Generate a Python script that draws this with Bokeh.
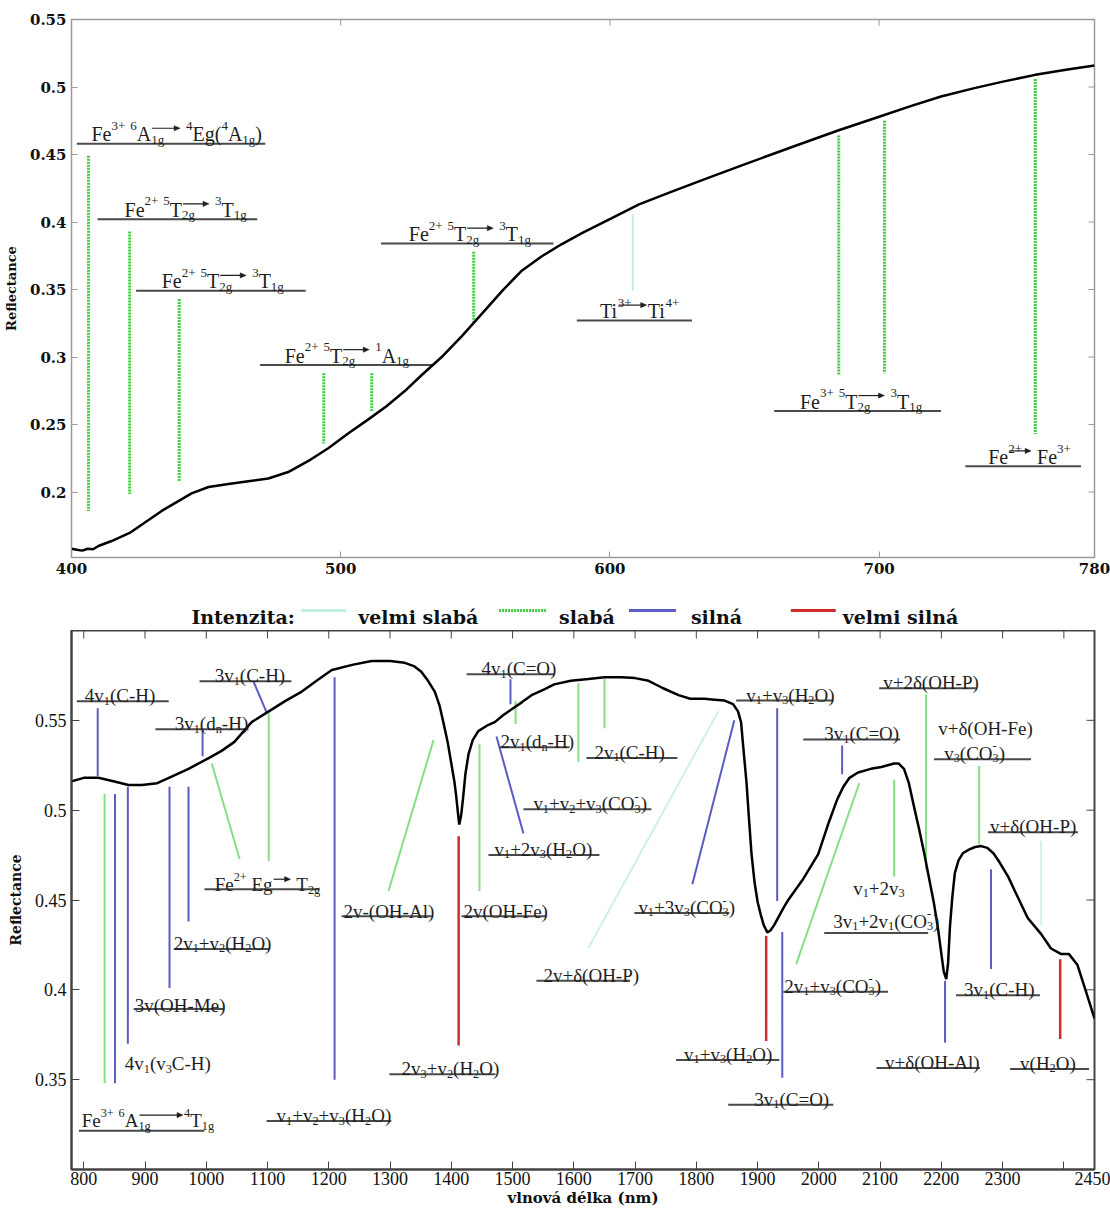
import re
from bokeh.plotting import figure
from bokeh.layouts import column
from bokeh.models import Range1d, FixedTicker, CustomJSTickFormatter, ColumnDataSource
from bokeh.core.properties import value
from bokeh.embed import file_html
from bokeh.resources import INLINE

SERIF = "Liberation Serif"
SERIF_BOLD = "DejaVu Serif"

# ---------------------------------------------------------------- data ----
# Visible range reflectance spectrum
vis_wl = [400, 402, 404, 406, 408, 410, 414.9, 421.6, 427, 433.5, 439.7, 444.6, 450.9,
          458.3, 465.7, 473.1, 480.5, 488, 495.5, 503, 510.4, 517, 523.8, 530, 537.5,
          545, 552.4, 560, 567, 574.7, 582, 589.6, 600.7, 610.8, 623, 635, 649, 660, 671,
          685, 700, 712, 723, 735, 746, 758, 770, 780]
vis_refl = [0.158, 0.1572, 0.1566, 0.158, 0.1576, 0.160, 0.1637, 0.1697, 0.177, 0.186,
            0.1933, 0.199, 0.2037, 0.206, 0.208, 0.210, 0.2148, 0.223, 0.2326, 0.2437,
            0.254, 0.2635, 0.2748, 0.2865, 0.300, 0.3155, 0.332, 0.349, 0.3635, 0.3746,
            0.3835, 0.3917, 0.4028, 0.413, 0.4225, 0.4316, 0.442, 0.450, 0.458, 0.468,
            0.478, 0.486, 0.493, 0.499, 0.504, 0.509, 0.513, 0.516]

# Near-infrared reflectance spectrum
nir_wl = [780, 800, 824, 850, 873, 895, 920, 939, 971, 1004, 1025, 1046, 1074, 1102, 1130,
          1156, 1180, 1205, 1240, 1270, 1300, 1324, 1340, 1351, 1362, 1373, 1381, 1387,
          1394, 1400, 1405, 1408, 1411, 1413, 1416, 1419, 1423, 1428, 1435, 1444, 1458,
          1471, 1485, 1498, 1515, 1531, 1550, 1568, 1595, 1624, 1650, 1678, 1700, 1722,
          1745, 1771, 1790, 1813, 1830, 1846, 1860, 1868, 1873, 1878, 1882, 1886, 1890,
          1895, 1900, 1905, 1910, 1916, 1921, 1927, 1935, 1943, 1950, 1975, 1999, 2015,
          2030, 2040, 2050, 2064, 2085, 2102, 2123, 2130, 2139, 2147, 2156, 2164, 2172,
          2180, 2188, 2195, 2200, 2204, 2208, 2211, 2214, 2218, 2222, 2228, 2235, 2245,
          2255, 2265, 2275, 2285, 2295, 2309, 2320, 2341, 2363, 2379, 2395, 2408, 2422,
          2439, 2450]
nir_refl = [0.516, 0.518, 0.518, 0.516, 0.514, 0.514, 0.515, 0.518, 0.523, 0.529, 0.533,
            0.538, 0.549, 0.555, 0.561, 0.566, 0.572, 0.578, 0.581, 0.583, 0.583, 0.582,
            0.580, 0.577, 0.572, 0.566, 0.558, 0.549, 0.538, 0.526, 0.516, 0.508, 0.498,
            0.492, 0.497, 0.506, 0.520, 0.531, 0.539, 0.544, 0.547, 0.549, 0.553, 0.556,
            0.560, 0.564, 0.567, 0.570, 0.572, 0.573, 0.574, 0.574, 0.5735, 0.572, 0.568,
            0.564, 0.562, 0.562, 0.5615, 0.561, 0.559, 0.555, 0.549, 0.530, 0.515, 0.495,
            0.476, 0.460, 0.449, 0.442, 0.436, 0.432, 0.433, 0.436, 0.441, 0.446, 0.450,
            0.462, 0.4755, 0.492, 0.506, 0.513, 0.518, 0.521, 0.523, 0.524, 0.526, 0.526,
            0.523, 0.515, 0.501, 0.489, 0.476, 0.462, 0.448, 0.433, 0.420, 0.410, 0.406,
            0.415, 0.435, 0.452, 0.465, 0.472, 0.476, 0.478, 0.4795, 0.480, 0.479, 0.476,
            0.471, 0.463, 0.455, 0.440, 0.431, 0.423, 0.420, 0.420, 0.414, 0.396, 0.384]

# Intensity classes
levels = ["velmi slabá", "slabá", "silná", "velmi silná"]
level_colors = ["#c3eee6", "#3fcf3f", "#5b5bc4", "#cf2b2b"]

# Absorption bands, visible range: start/end points and intensity class index
vis_band_x0 = [406.3, 421.6, 440.0, 493.7, 511.5, 549.4, 608.5, 685.0, 702.0, 758.0]
vis_band_y0 = [0.449, 0.393, 0.343, 0.288, 0.288, 0.378, 0.406, 0.464, 0.475, 0.506]
vis_band_x1 = [406.3, 421.6, 440.0, 493.7, 511.5, 549.4, 608.5, 685.0, 702.0, 758.0]
vis_band_y1 = [0.186, 0.1985, 0.208, 0.236, 0.260, 0.325, 0.349, 0.287, 0.288, 0.243]
vis_band_lvl = [1, 1, 1, 1, 1, 1, 0, 1, 1, 1]

# Assignment labels, visible range (@{n}: transition arrow n em long, over the subscript)
vis_lbl_text = [
    "Fe^{3+} ^{6}A_{1g}@{1.5} ^{4}Eg(^{4}A_{1g})",
    "Fe^{2+} ^{5}T_{2g}@{1.4} ^{3}T_{1g}",
    "Fe^{2+} ^{5}T_{2g}@{1.4} ^{3}T_{1g}",
    "Fe^{2+} ^{5}T_{2g}@{1.4} ^{1}A_{1g}",
    "Fe^{2+} ^{5}T_{2g}@{1.4} ^{3}T_{1g}",
    "Ti^{3+}@{1.5}Ti^{4+}",
    "Fe^{3+} ^{5}T_{2g}@{1.4} ^{3}T_{1g}",
    "Fe^{2+}@{1.2} Fe^{3+}",
]
vis_lbl_x = [407.4, 419.7, 433.5, 479.2, 525.3, 596.3, 670.6, 740.5]
vis_lbl_y = [0.465, 0.409, 0.356, 0.301, 0.391, 0.334, 0.267, 0.226]
vis_line_x0 = [402.0, 409.7, 424.0, 470.0, 515.0, 587.7, 661.0, 732.0]
vis_line_x1 = [472.0, 469.0, 487.0, 534.0, 579.0, 630.5, 723.0, 775.0]
vis_line_y = [0.458, 0.402, 0.349, 0.294, 0.384, 0.327, 0.260, 0.219]

# Absorption bands, near-infrared range
nir_band_x0 = [822.8, 1077.0, 1102.0, 994.0, 1009.0, 834.0, 851.0, 872.0, 940.0, 971.0,
               1209.5, 1297.5, 1412.0, 1446.0, 1496.6, 1505.0, 1473.7, 1607.5, 1650.0,
               1793.5, 1623.8, 1932.0, 2038.0, 2175.0, 2261.7, 2363.0, 2281.0, 2123.0,
               2066.0, 1914.0, 1940.3, 2206.0, 2394.0]
nir_band_y0 = [0.5567, 0.5717, 0.554, 0.545, 0.526, 0.509, 0.509, 0.513, 0.513, 0.513,
               0.574, 0.455, 0.4855, 0.537, 0.5728, 0.5606, 0.541, 0.5706, 0.573,
               0.4588, 0.4233, 0.5567, 0.536, 0.5645, 0.5245, 0.483, 0.467, 0.517,
               0.515, 0.430, 0.4322, 0.405, 0.417]
nir_band_x1 = [822.8, 1098.5, 1102.0, 994.0, 1054.5, 834.0, 851.0, 872.0, 940.0, 971.0,
               1209.5, 1371.0, 1412.0, 1446.0, 1496.6, 1505.0, 1517.8, 1607.5, 1650.0,
               1862.0, 1835.9, 1932.0, 2038.0, 2175.0, 2261.7, 2363.0, 2281.0, 2123.0,
               1963.0, 1914.0, 1940.3, 2206.0, 2394.0]
nir_band_y1 = [0.519, 0.5544, 0.4716, 0.530, 0.4727, 0.348, 0.348, 0.370, 0.401, 0.438,
               0.350, 0.539, 0.369, 0.455, 0.5589, 0.548, 0.487, 0.527, 0.5456,
               0.550, 0.555, 0.4494, 0.520, 0.467, 0.481, 0.436, 0.4116, 0.463,
               0.4143, 0.3715, 0.351, 0.3706, 0.3727]
nir_band_lvl = [2, 2, 1, 2, 1, 1, 2, 2, 2, 2,
                2, 1, 3, 1, 2, 1, 2, 1, 1,
                2, 0, 2, 2, 1, 1, 0, 2, 1,
                1, 3, 2, 2, 3]

# Assignment labels, near-infrared range (&{n}: inline arrow n em long)
nir_lbl_text = [
    "4v_{1}(C-H)", "3v_{1}(C-H)", "3v_{1}(d_{n}-H)", "Fe^{2+} Eg&{1.0} T_{2g}",
    "2v_{1}+v_{2}(H_{2}O)", "3v(OH-Me)", "4v_{1}(v_{3}C-H)", "Fe^{3+} ^{6}A_{1g}@{2.4}^{4}T_{1g}",
    "v_{1}+v_{2}+v_{3}(H_{2}O)", "2v-(OH-Al)", "2v_{3}+v_{2}(H_{2}O)", "2v(OH-Fe)",
    "4v_{1}(C=O)", "2v_{1}(d_{n}-H)", "2v_{1}(C-H)", "v_{1}+v_{2}+v_{3}(CO_{3}^{-})",
    "v_{1}+2v_{3}(H_{2}O)", "v_{1}+3v_{3}(CO_{3}^{-})", "2v+δ(OH-P)", "v_{1}+v_{3}(H_{2}O)",
    "3v_{1}(C=O)", "v+2δ(OH-P)", "v+δ(OH-Fe)", "v_{3}(CO_{3}^{-})", "v+δ(OH-P)",
    "v_{1}+2v_{3}", "3v_{1}+2v_{1}(CO_{3}^{-})", "2v_{1}+v_{3}(CO_{3}^{-})",
    "v_{1}+v_{3}(H_{2}O)", "3v_{1}(C=O)", "v+δ(OH-Al)", "3v_{1}(C-H)", "v(H_{2}O)",
]
nir_lbl_x = [801.6, 1013.7, 948.5, 1013.7, 946.8, 883.2, 866.9, 796.7, 1114.8, 1224.0,
             1318.8, 1419.9, 1449.3, 1480.3, 1633.6, 1534.0, 1470.5, 1705.4, 1550.4,
             1881.6, 2008.8, 2105.0, 2194.8, 2204.6, 2279.6, 2056.0, 2023.5, 1943.6,
             1780.0, 1894.6, 2108.0, 2237.0, 2328.5]
nir_lbl_y = [0.5636, 0.5747, 0.548, 0.4584, 0.4257, 0.3915, 0.3588, 0.3271, 0.3298,
             0.4438, 0.356, 0.4438, 0.5786, 0.538, 0.532, 0.5035, 0.478, 0.4457, 0.408,
             0.564, 0.5424, 0.5708, 0.5456, 0.5316, 0.4907, 0.4566, 0.4382, 0.402,
             0.364, 0.339, 0.3595, 0.400, 0.359]
nir_line_x0 = [788.6, 989.0, 917.0, 997.0, 947.0, 881.5, 792.0, 1098.5, 1221.0, 1299.0,
               1416.6, 1425.0, 1478.6, 1620.6, 1517.8, 1460.7, 1698.9, 1539.0, 1865.0,
               1974.6, 2098.5, 2188.0, 2276.0, 2008.8, 1942.0, 1767.0, 1852.0, 2094.0,
               2224.0, 2312.0]
nir_line_x1 = [938.7, 1139.0, 1069.0, 1185.0, 1103.0, 1028.0, 997.0, 1302.0, 1368.0,
               1472.0, 1555.0, 1568.0, 1593.0, 1769.0, 1726.6, 1641.8, 1853.8, 1692.0,
               2023.5, 2132.8, 2256.8, 2346.5, 2423.0, 2178.5, 2113.0, 1935.4, 2023.5,
               2263.0, 2361.0, 2441.0]
nir_line_y = [0.5606, 0.5717, 0.545, 0.456, 0.4227, 0.3893, 0.3215, 0.327, 0.441, 0.353,
              0.441, 0.5756, 0.535, 0.529, 0.5005, 0.475, 0.4427, 0.405, 0.561, 0.5394,
              0.5678, 0.5283, 0.4877, 0.4316, 0.399, 0.361, 0.336, 0.3565, 0.397, 0.356]

vis_xticks = [400, 500, 600, 700, 780]
vis_yticks = [0.2, 0.25, 0.3, 0.35, 0.4, 0.45, 0.5, 0.55]
nir_xticks = [800, 900, 1000, 1100, 1200, 1300, 1400, 1500, 1600, 1700, 1800, 1900,
              2000, 2100, 2200, 2300, 2400, 2450]
nir_yticks = [0.35, 0.4, 0.45, 0.5, 0.55]

# ------------------------------------------------------- text layout ----
# Advance widths of Times-metric glyphs (per 1000 em)
ADV = {" ": 250, "(": 333, ")": 333, "+": 564, "-": 333, "=": 564, ".": 250, ":": 278,
       "A": 722, "C": 667, "E": 611, "F": 556, "H": 722, "M": 889, "O": 722, "P": 556,
       "T": 611, "l": 278, "i": 278, "a": 444, "d": 500, "e": 444, "g": 500, "n": 500,
       "v": 500, "δ": 500}
for _c in "0123456789":
    ADV[_c] = 500


def advance(s):
    return sum(ADV.get(c, 500) for c in s) / 1000.0


def compose(markup, x0, y0, size, ux, uy):
    """Split a label with ^{sup}, _{sub} and arrow parts into positioned runs."""
    runs, arrows = [], []
    toks = re.findall(r"\^\{[^}]*\}|_\{[^}]*\}|@\{[^}]*\}|&\{[^}]*\}|[^\^_@&]+", markup)
    cur = 0.0
    prev_start, prev_kind = 0.0, None
    for tk in toks:
        if tk.startswith("^{"):
            kind, t = "sup", tk[2:-1]
        elif tk.startswith("_{"):
            kind, t = "sub", tk[2:-1]
        elif tk.startswith("@{"):
            kind, t = "over", tk[2:-1]
        elif tk.startswith("&{"):
            kind, t = "arrow", tk[2:-1]
        else:
            kind, t = "n", tk
        fs = size * 0.65 if kind in ("sup", "sub") else size
        if kind in ("over", "arrow"):
            w = float(t) * size
        else:
            w = advance(t) * fs
        stacked = kind == "over" or (kind in ("sup", "sub") and prev_kind in ("sup", "sub")
                                     and kind != prev_kind)
        start = prev_start if stacked else cur
        cur = max(cur, start + w) if stacked else cur + w
        if kind in ("over", "arrow"):
            arrows.append((x0 + (start + 1) * ux, x0 + (start + w - 1) * ux,
                           y0 + 0.3 * size * uy))
        else:
            lead = advance(t[:len(t) - len(t.lstrip())]) * fs
            rise = {"sup": 0.42 * size, "sub": -0.25 * size}.get(kind, 0.0)
            runs.append((t.strip(), x0 + (start + lead) * ux, y0 + rise * uy, "%.1fpx" % fs))
        prev_start, prev_kind = start, kind
    return runs, arrows


def draw_labels(p, texts, xs, ys, size, ux, uy, color="#1e1e1e"):
    data = dict(x=[], y=[], text=[], size=[])
    ax0, ax1, ay, hx, hy = [], [], [], [], []
    for m, x, y in zip(texts, xs, ys):
        runs, arrows = compose(m, x, y, size, ux, uy)
        for t, rx, ry, fs in runs:
            if t == "":
                continue
            data["x"].append(rx)
            data["y"].append(ry)
            data["text"].append(t)
            data["size"].append(fs)
        for a0, a1, yy in arrows:
            ax0.append(a0)
            ax1.append(a1 - 3 * ux)
            ay.append(yy)
            hx.append([a1 - 6 * ux, a1, a1 - 6 * ux])
            hy.append([yy + 2.6 * uy, yy, yy - 2.6 * uy])
    p.text(x="x", y="y", text="text", text_font_size="size", source=ColumnDataSource(data),
           text_font=value(SERIF), text_color=color, text_align="left",
           text_baseline="alphabetic")
    p.segment(x0=ax0, y0=ay, x1=ax1, y1=ay, line_color=color, line_width=1.2)
    p.patches(xs=hx, ys=hy, fill_color=color, line_color=color, line_width=0.5)


def style_axes(p, bold_ticks, tick_size, tick_len, frame_color, hide=()):
    for ax in (p.xaxis[0], p.yaxis[0]):
        ax.major_label_text_font = SERIF_BOLD if bold_ticks else SERIF
        ax.major_label_text_font_size = tick_size
        ax.major_label_text_font_style = "bold" if bold_ticks else "normal"
        ax.major_label_text_color = "#111111"
        ax.major_tick_in = tick_len
        ax.major_tick_out = 0
        ax.minor_tick_line_color = None
        ax.major_tick_line_color = frame_color
        ax.axis_line_color = frame_color
        ax.axis_label_text_font = SERIF_BOLD
        ax.axis_label_text_font_style = "bold"
        ax.axis_label_text_color = "#111111"
    p.yaxis[0].formatter = CustomJSTickFormatter(code="return String(tick)")
    skip = ",".join(str(h) for h in hide) or "-1"
    p.xaxis[0].formatter = CustomJSTickFormatter(
        code="return [%s].includes(tick) ? '' : String(tick)" % skip)
    p.grid.visible = False
    p.outline_line_color = frame_color


def mirror_ticks(p, xticks, yticks, xr, yr, ux, uy, length, color, width):
    inner_x = [t for t in xticks if xr[0] < t < xr[1]]
    inner_y = [t for t in yticks if yr[0] < t < yr[1]]
    p.segment(x0=inner_x, y0=[yr[1]] * len(inner_x), x1=inner_x,
              y1=[yr[1] - length * uy] * len(inner_x), line_color=color, line_width=width)
    p.segment(x0=[xr[1]] * len(inner_y), y0=inner_y, x1=[xr[1] - length * ux] * len(inner_y),
              y1=inner_y, line_color=color, line_width=width)


def draw_bands(p, x0, y0, x1, y1, lvl, width, dashes, colors):
    for k in range(len(levels)):
        idx = [i for i, v in enumerate(lvl) if v == k]
        if not idx:
            continue
        p.segment(x0=[x0[i] for i in idx], y0=[y0[i] for i in idx],
                  x1=[x1[i] for i in idx], y1=[y1[i] for i in idx],
                  line_color=colors[k], line_width=width[k], line_dash=dashes[k])


# ----------------------------------------------------- visible panel ----
VX = (400, 780)
VY = (0.1515, 0.55)
top = figure(width=1110, height=585, x_range=Range1d(*VX), y_range=Range1d(*VY),
             output_backend="svg", toolbar_location=None,
             min_border_left=70, min_border_right=16, min_border_top=19, min_border_bottom=28)
ux_t = (VX[1] - VX[0]) / 1024.0
uy_t = (VY[1] - VY[0]) / 538.0
style_axes(top, True, "15px", 6, "#9a9a9a")
top.outline_line_width = 1.5
top.xaxis[0].ticker = FixedTicker(ticks=vis_xticks)
top.yaxis[0].ticker = FixedTicker(ticks=vis_yticks)
top.yaxis[0].axis_label = "Reflectance"
top.yaxis[0].axis_label_text_font_size = "13px"
top.yaxis[0].axis_label_standoff = 8
top.xaxis[0].major_label_standoff = 5
mirror_ticks(top, vis_xticks, vis_yticks, VX, VY, ux_t, uy_t, 6, "#9a9a9a", 1)

draw_bands(top, vis_band_x0, vis_band_y0, vis_band_x1, vis_band_y1, vis_band_lvl,
           [2, 3, 2, 2.5], ["solid", "2 1", "solid", "solid"],
           ["#c3eee6", "#3fcf3f", "#5b5bc4", "#cf2b2b"])
top.segment(x0=vis_line_x0, y0=vis_line_y, x1=vis_line_x1, y1=vis_line_y,
            line_color="#4a4a4a", line_width=2)
top.line(vis_wl, vis_refl, line_color="#000000", line_width=2.5)
draw_labels(top, vis_lbl_text, vis_lbl_x, vis_lbl_y, 20, ux_t, uy_t)

# ------------------------------------------------------------ legend ----
# frame shares the panels' horizontal extent, so the range is in page pixels
leg = figure(width=1110, height=45, x_range=Range1d(70, 1094), y_range=Range1d(0, 45),
             output_backend="svg", toolbar_location=None, min_border=0)
leg.axis.visible = False
leg.grid.visible = False
leg.outline_line_color = None
sw_x0 = [300, 498, 628, 790]
sw_x1 = [345, 545, 675, 835]
txt_x = [357, 558, 690, 842]
sw_dash = ["solid", "2 1", "solid", "solid"]
for k in range(len(levels)):
    leg.segment(x0=[sw_x0[k]], y0=[20], x1=[sw_x1[k]], y1=[20],
                line_color=level_colors[k], line_width=3, line_dash=sw_dash[k])
leg.text(x=[190] + txt_x, y=[14] * 5, text=["Intenzita:"] + levels,
         text_font=value(SERIF_BOLD), text_font_size="19px", text_font_style="bold",
         text_color="#111111", text_baseline="alphabetic", text_align="left")

# ----------------------------------------------------- infrared panel ----
NX = (780, 2450)
NY = (0.30, 0.60)
bot = figure(width=1110, height=579, x_range=Range1d(*NX), y_range=Range1d(*NY),
             output_backend="svg", toolbar_location=None,
             min_border_left=70, min_border_right=16, min_border_top=0, min_border_bottom=39)
ux_b = (NX[1] - NX[0]) / 1024.0
uy_b = (NY[1] - NY[0]) / 540.0
style_axes(bot, False, "18px", 8, "#444444", hide=(2400,))
bot.outline_line_width = 2
bot.xaxis[0].ticker = FixedTicker(ticks=nir_xticks)
bot.yaxis[0].ticker = FixedTicker(ticks=nir_yticks)
bot.yaxis[0].axis_label = "Reflectance"
bot.yaxis[0].axis_label_text_font_size = "14px"
bot.yaxis[0].axis_label_standoff = 8
bot.xaxis[0].axis_label = "vlnová délka (nm)"
bot.xaxis[0].axis_label_text_font_size = "15px"
bot.xaxis[0].axis_label_standoff = 1
bot.xaxis[0].major_label_standoff = 2
bot.xaxis[0].axis_line_width = 2
bot.yaxis[0].axis_line_width = 2
mirror_ticks(bot, nir_xticks, nir_yticks, NX, NY, ux_b, uy_b, 8, "#444444", 1)

draw_bands(bot, nir_band_x0, nir_band_y0, nir_band_x1, nir_band_y1, nir_band_lvl,
           [2, 2, 2, 2.5], ["solid", "solid", "solid", "solid"],
           ["#cdf1ea", "#85df85", "#5b5bc4", "#cf2b2b"])
bot.segment(x0=nir_line_x0, y0=nir_line_y, x1=nir_line_x1, y1=nir_line_y,
            line_color="#4a4a4a", line_width=2)
bot.line(nir_wl, nir_refl, line_color="#000000", line_width=2.5)
draw_labels(bot, nir_lbl_text, nir_lbl_x, nir_lbl_y, 19, ux_b, uy_b)

page = column(top, leg, bot)
open("out.html", "w").write(file_html(page, INLINE, title="Reflectance"))
